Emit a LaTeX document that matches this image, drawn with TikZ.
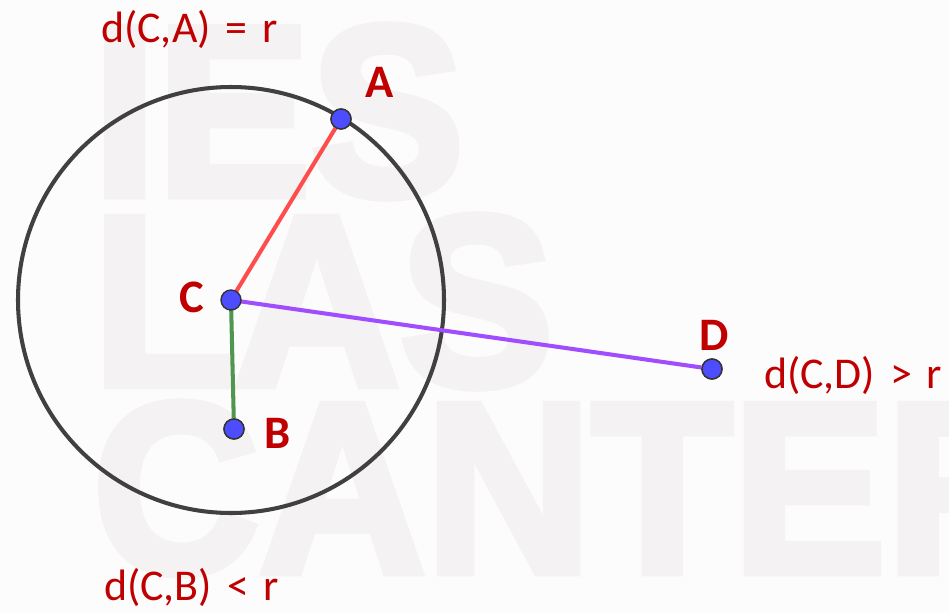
\documentclass[tikz,border=0pt]{standalone}
\usepackage{fontspec}
\setmainfont{Carlito}
\newfontfamily\lblfont[WordSpace=1.5]{Carlito}
\newfontfamily\wmfont[BoldFeatures={FakeBold=3.5}]{Liberation Sans}
\definecolor{lblred}{RGB}{192,0,0}
\definecolor{ptblue}{RGB}{77,77,255}
\definecolor{segred}{RGB}{255,77,77}
\definecolor{seggreen}{RGB}{80,150,80}
\definecolor{segviolet}{RGB}{160,77,255}
\definecolor{circgray}{RGB}{64,64,64}
\definecolor{paper}{RGB}{252,252,252}
\definecolor{wmark}{RGB}{244,242,243}
\begin{document}
\begin{tikzpicture}[
    ptdot/.style={circle,fill=ptblue,draw=black!80,line width=0.8pt,inner sep=0pt,minimum size=0.4cm},
    seg/.style={line width=2.3pt},
    distlbl/.style={anchor=base west,text=lblred,font=\lblfont\fontsize{25}{29}\selectfont,inner sep=0pt},
    ptlbl/.style={anchor=base west,text=lblred,font=\bfseries\fontsize{26.5}{30}\selectfont,inner sep=0pt},
    wmtext/.style={anchor=base west,text=wmark,font=\wmfont\bfseries\fontsize{138}{150}\selectfont,inner sep=0pt,xscale=0.95,transform shape}]
    \fill[paper] (0,0) rectangle (18.98,-12.26);
    \useasboundingbox (0,0) rectangle (18.98,-12.26);
    \begin{scope}
        \clip (0,0) rectangle (18.98,-12.26);
        \node[wmtext] (wmies) at (1.85,-3.9) {IES};
        \node[wmtext] (wmlas) at (1.85,-7.7) {LAS};
        \node[wmtext] (wmcan) at (1.85,-11.44) {CANTERAS};
    \end{scope}
    \coordinate (C) at (4.62,-6.00);
    \draw[circgray,line width=2.3pt] (C) circle[radius=4.26];
    \node[ptdot] (A) at (6.82,-2.38) {};
    \node[ptdot] (B) at (4.68,-8.58) {};
    \node[ptdot] (D) at (14.24,-7.38) {};
    \draw[seg,segred] (C)--(A);
    \draw[seg,seggreen] (C)--(B);
    \draw[seg,segviolet] (C)--(D);
    \node[ptdot] (Cpt) at (C) {};
    \node[ptdot] at (A) {};
    \node[ptdot] at (B) {};
    \node[ptdot] at (D) {};
    \node[ptlbl] (lA) at (7.30,-1.94) {A};
    \node[ptlbl] (lC) at (3.58,-6.24) {C};
    \node[ptlbl] (lB) at (5.28,-8.96) {B};
    \node[ptlbl] (lD) at (13.98,-7.00) {D};
    \node[distlbl] (dCA) at (2.02,-0.84) {d(C,A) = r};
    \node[distlbl] (dCB) at (2.08,-12.00) {d(C,B) < r};
    \node[distlbl] (dCD) at (15.28,-7.76) {d(C,D) > r};
\end{tikzpicture}
\end{document}
